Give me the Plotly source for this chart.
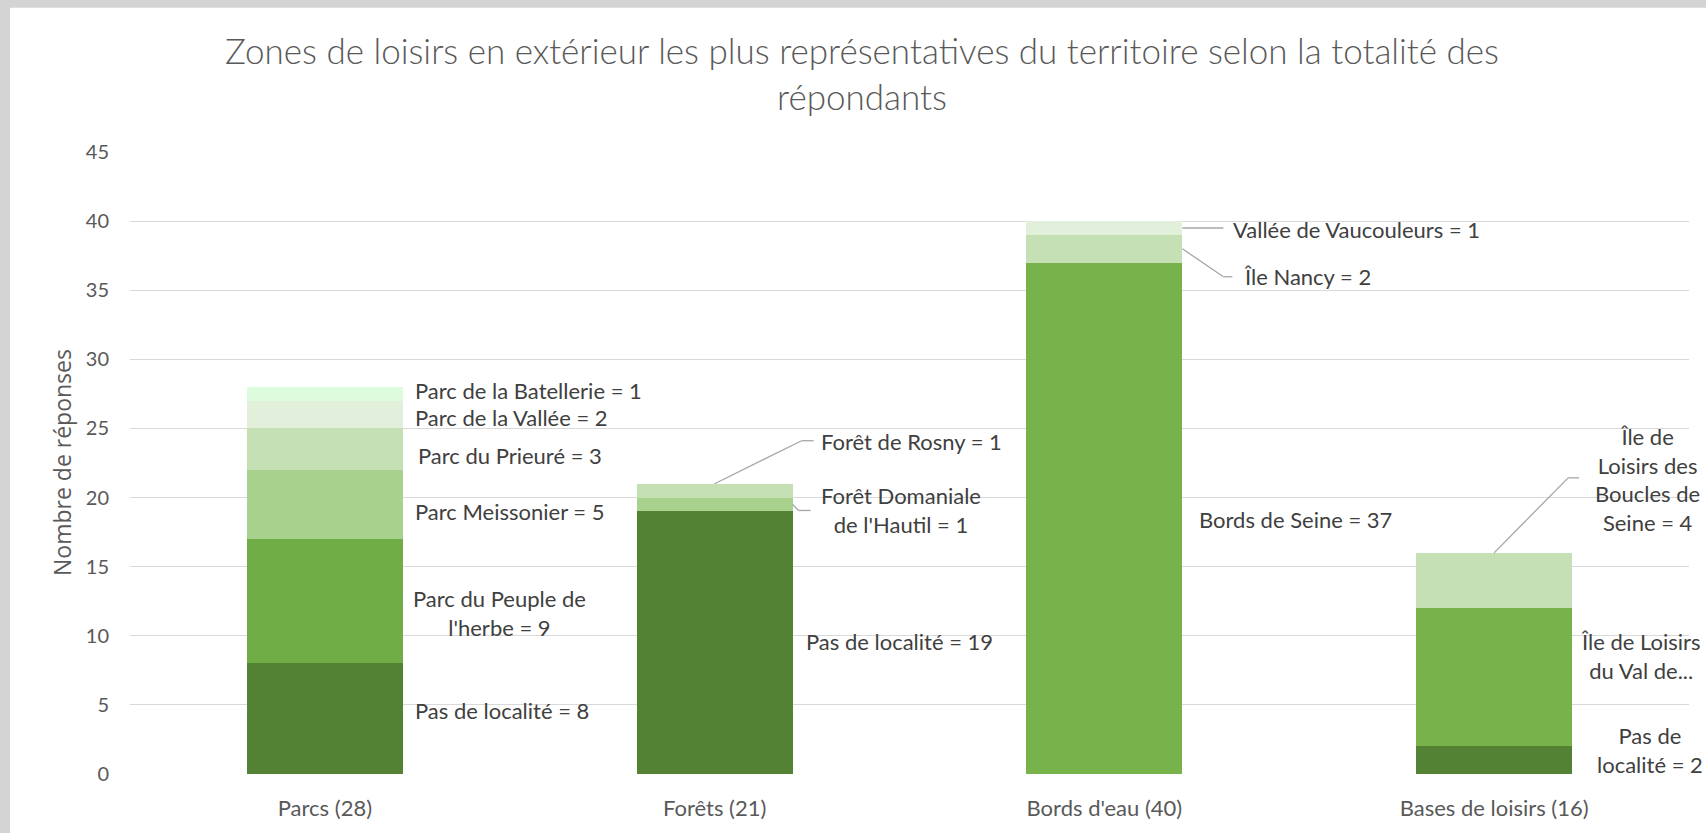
import plotly.graph_objects as go

# ---------------- data ----------------
categories = ["Parcs (28)", "Forêts (21)", "Bords d'eau (40)", "Bases de loisirs (16)"]

parcs_names = ["Pas de localité", "Parc du Peuple de l'herbe", "Parc Meissonier",
               "Parc du Prieuré", "Parc de la Vallée", "Parc de la Batellerie"]
parcs_values = [8, 9, 5, 3, 2, 1]

forets_names = ["Pas de localité", "Forêt Domaniale de l'Hautil", "Forêt de Rosny"]
forets_values = [19, 1, 1]

bords_names = ["Bords de Seine", "Île Nancy", "Vallée de Vaucouleurs"]
bords_values = [37, 2, 1]

bases_names = ["Pas de localité", "Île de Loisirs du Val de...", "Île de Loisirs des Boucles de Seine"]
bases_values = [2, 10, 4]

y_ticks = [0, 5, 10, 15, 20, 25, 30, 35, 40, 45]

# ---------------- styles ----------------
parcs_colors = ["#548235", "#70AD47", "#A9D18E", "#C5E0B4", "#E2EFDA", "#DDFBDD"]
forets_colors = ["#548235", "#A9D18E", "#C5E0B4"]
bords_colors = ["#77B24B", "#C5E0B4", "#E2EFDA"]
bases_colors = ["#548235", "#77B24B", "#C5E0B4"]

# wrapped label names (None = single line); truncated labels show no value (as in the source)
parcs_wrap = [None, "Parc du Peuple de<br>l'herbe", None, None, None, None]
forets_wrap = [None, "Forêt Domaniale<br>de l'Hautil", None]
bords_wrap = [None, None, None]
bases_wrap = ["Pas de<br>localité", "Île de Loisirs<br>du Val de...", "Île de<br>Loisirs des<br>Boucles de<br>Seine"]
truncated = {"Île de Loisirs du Val de..."}

# (xshift px, xanchor, yshift px)
parcs_lab = [(88, "left", 8), (86, "left", -12), (88, "left", -7), (91, "left", -6), (88, "left", -3), (88, "left", 3)]
forets_lab = [(89, "left", 1), (104, "left", -6), (104, "left", 49)]
bords_lab = [(93, "left", -1), (138, "left", -28), (127, "left", -1)]
bases_lab = [(156, "center", 10), (147, "center", 21), (153, "center", 101)]

# leader lines: (anchor 'mid'/'top', points (dx px, dy px) relative to anchor)
forets_lead = [None, ("mid", [(78, 0), (84, -6), (96, -6)]), ("top", [(0, 0), (87, 43), (99, 43)])]
bords_lead = [None, ("mid", [(78, 0), (119, -28), (128, -28)]), ("mid", [(78, 0), (119, 0)])]
bases_lead = [None, None, ("top", [(0, 0), (74, 75), (85, 75)])]
parcs_lead = [None] * 6

groups = [
    (parcs_names, parcs_values, parcs_colors, parcs_wrap, parcs_lab, parcs_lead),
    (forets_names, forets_values, forets_colors, forets_wrap, forets_lab, forets_lead),
    (bords_names, bords_values, bords_colors, bords_wrap, bords_lab, bords_lead),
    (bases_names, bases_values, bases_colors, bases_wrap, bases_lab, bases_lead),
]

LABEL_FONT = dict(family="Lato", size=22, color="#404040")
LEAD_COLOR = "#A6A6A6"

fig = go.Figure()
annotations = []
shapes = []

for ci, (names, values, colors, wraps, labs, leads) in enumerate(groups):
    cat = categories[ci]
    base = 0
    for si, (n, v) in enumerate(zip(names, values)):
        fig.add_trace(go.Bar(
            x=[cat], y=[v], name=n, marker=dict(color=colors[si], line=dict(width=0)),
            showlegend=False, hovertemplate=n + " = %{y}<extra></extra>",
        ))
        mid = base + v / 2
        top = base + v
        shown = wraps[si] if wraps[si] else n
        text = shown if n in truncated else shown + " = " + str(v)
        dx, xa, dy = labs[si]
        annotations.append(dict(
            x=ci, y=mid, xref="x", yref="y", text=text, showarrow=False,
            xshift=dx, yshift=dy, xanchor=xa, yanchor="middle", align="center",
            font=LABEL_FONT,
        ))
        if leads[si]:
            kind, pts = leads[si]
            ay = mid if kind == "mid" else top
            for (x0, y0), (x1, y1) in zip(pts[:-1], pts[1:]):
                shapes.append(dict(
                    type="line", xref="x", yref="y",
                    xsizemode="pixel", ysizemode="pixel", xanchor=ci, yanchor=ay,
                    x0=x0, x1=x1, y0=y0, y1=y1,
                    line=dict(color=LEAD_COLOR, width=1.3),
                ))
        base = top

# gray frame strips (screenshot border) on top and left
shapes.append(dict(type="rect", xref="paper", yref="paper", x0=-0.2, x1=(10 - 130) / 1559,
                   y0=-0.2, y1=1.3, fillcolor="#D4D4D4", line=dict(width=0), layer="below"))
shapes.append(dict(type="rect", xref="paper", yref="paper", x0=-0.2, x1=1.2,
                   y0=(777 - 7) / 625, y1=1.3, fillcolor="#D4D4D4", line=dict(width=0), layer="below"))

# y axis title
annotations.append(dict(
    x=(62 - 130) / 1559, y=0.5, xref="paper", yref="paper", text="Nombre de réponses",
    textangle=-90, showarrow=False, xanchor="center", yanchor="middle",
    font=dict(family="Open Sans", size=23, color="#595959"),
))

fig.update_layout(
    width=1706, height=833,
    barmode="stack", bargap=0.6,
    paper_bgcolor="white", plot_bgcolor="white",
    margin=dict(l=130, r=17, t=152, b=56),
    title=dict(
        text="Zones de loisirs en extérieur les plus représentatives du territoire selon la totalité des<br>répondants",
        xref="container", yref="container", x=862 / 1706, y=1 - 64 / 833,
        xanchor="center", yanchor="middle",
        font=dict(family="Lato", size=35, color="#595959", weight=300),
    ),
    xaxis=dict(
        type="category", categoryorder="array", categoryarray=categories,
        range=[-0.5, len(categories) - 0.5], autorange=False,
        showgrid=False, showline=False, zeroline=False, ticks="",
        tickfont=dict(family="Lato", size=22, color="#595959"),
        ticklabelstandoff=19,
    ),
    yaxis=dict(
        range=[0, 45], autorange=False, tickvals=y_ticks, showgrid=True,
        gridcolor="#D9D9D9", gridwidth=1.3,
        zeroline=False, showline=False, ticks="",
        tickfont=dict(family="Lato", size=20, color="#595959"),
        ticklabelstandoff=20,
    ),
    annotations=annotations,
    shapes=shapes,
    font=dict(family="Lato"),
)

fig.write_html(
    "out.html",
    config={"displayModeBar": False},
    post_script="document.body.style.margin='0';document.body.style.overflow='hidden';",
)
